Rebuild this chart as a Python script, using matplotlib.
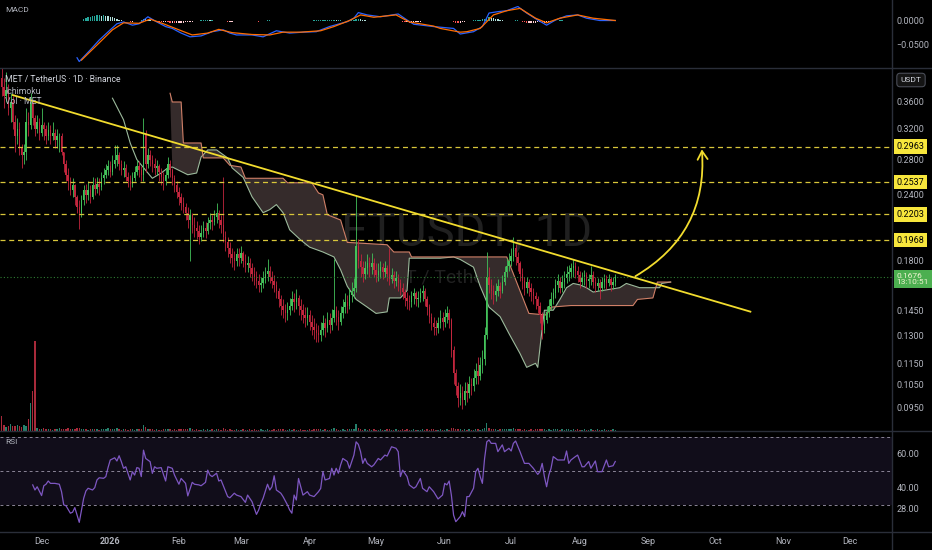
import matplotlib.pyplot as plt
import numpy as np
import pandas as pd
from matplotlib.lines import Line2D
from matplotlib.patches import FancyArrowPatch

# ---------------- data ----------------
start_date = '2025-11-13'   # first daily candle
first_open = 0.400

closes = [0.385, 0.370, 0.380, 0.350, 0.360, 0.330, 0.310, 0.320, 0.295, 0.285,
          0.290, 0.330, 0.325, 0.360, 0.335, 0.320, 0.330, 0.315, 0.325, 0.320,
          0.310, 0.318, 0.310, 0.315, 0.305, 0.310, 0.310, 0.290, 0.275, 0.262,
          0.255, 0.245, 0.250, 0.238, 0.228, 0.222, 0.235, 0.245, 0.240, 0.245,
          0.238, 0.250, 0.246, 0.252, 0.248, 0.258, 0.262, 0.268, 0.272, 0.265,
          0.275, 0.280, 0.285, 0.275, 0.268, 0.270, 0.260, 0.255, 0.252, 0.258,
          0.265, 0.272, 0.268, 0.262, 0.315, 0.275, 0.285, 0.280, 0.275, 0.270,
          0.272, 0.265, 0.260, 0.255, 0.262, 0.275, 0.268, 0.258, 0.250, 0.243,
          0.238, 0.232, 0.228, 0.222, 0.215, 0.220, 0.210, 0.208, 0.205, 0.200,
          0.203, 0.208, 0.205, 0.212, 0.215, 0.213, 0.218, 0.222, 0.215, 0.210,
          0.200, 0.195, 0.190, 0.185, 0.182, 0.180, 0.185, 0.182, 0.186, 0.180,
          0.177, 0.178, 0.174, 0.170, 0.167, 0.165, 0.162, 0.163, 0.167, 0.170,
          0.172, 0.168, 0.165, 0.162, 0.158, 0.152, 0.148, 0.145, 0.143, 0.145,
          0.148, 0.152, 0.150, 0.153, 0.148, 0.145, 0.142, 0.140, 0.142, 0.138,
          0.135, 0.133, 0.131, 0.130, 0.133, 0.137, 0.134, 0.139, 0.136, 0.140,
          0.145, 0.141, 0.138, 0.143, 0.147, 0.150, 0.148, 0.155, 0.158, 0.160,
          0.192, 0.180, 0.175, 0.170, 0.174, 0.178, 0.175, 0.178, 0.173, 0.169,
          0.172, 0.175, 0.171, 0.174, 0.170, 0.166, 0.169, 0.165, 0.167, 0.163,
          0.160, 0.157, 0.153, 0.151, 0.150, 0.154, 0.156, 0.152, 0.153, 0.156,
          0.158, 0.152, 0.147, 0.141, 0.137, 0.135, 0.134, 0.137, 0.140, 0.138,
          0.141, 0.143, 0.139, 0.122, 0.110, 0.104, 0.099, 0.101, 0.098, 0.102,
          0.101, 0.105, 0.104, 0.108, 0.111, 0.109, 0.114, 0.117, 0.130, 0.168,
          0.162, 0.158, 0.155, 0.158, 0.161, 0.158, 0.164, 0.171, 0.176, 0.180,
          0.184, 0.190, 0.183, 0.178, 0.170, 0.165, 0.160, 0.164, 0.160, 0.157,
          0.154, 0.152, 0.148, 0.142, 0.133, 0.139, 0.144, 0.148, 0.152, 0.156,
          0.162, 0.165, 0.160, 0.164, 0.167, 0.170, 0.171, 0.174, 0.176, 0.172,
          0.169, 0.164, 0.167, 0.169, 0.165, 0.166, 0.169, 0.164, 0.161, 0.163,
          0.160, 0.164, 0.166, 0.163, 0.166, 0.162, 0.164, 0.1676]

highs = [0.430, 0.400, 0.410, 0.390, 0.375, 0.370, 0.340, 0.335, 0.330, 0.300,
         0.300, 0.350, 0.345, 0.375, 0.360, 0.340, 0.340, 0.335, 0.350, 0.330,
         0.325, 0.330, 0.325, 0.330, 0.320, 0.320, 0.315, 0.315, 0.290, 0.280,
         0.270, 0.260, 0.258, 0.252, 0.240, 0.235, 0.240, 0.250, 0.252, 0.255,
         0.250, 0.260, 0.258, 0.260, 0.258, 0.265, 0.270, 0.275, 0.280, 0.278,
         0.285, 0.298, 0.298, 0.290, 0.280, 0.278, 0.275, 0.265, 0.262, 0.265,
         0.272, 0.280, 0.278, 0.272, 0.335, 0.318, 0.295, 0.292, 0.285, 0.282,
         0.280, 0.275, 0.270, 0.265, 0.270, 0.283, 0.280, 0.270, 0.262, 0.255,
         0.248, 0.242, 0.238, 0.232, 0.228, 0.226, 0.222, 0.218, 0.214, 0.210,
         0.210, 0.214, 0.213, 0.218, 0.222, 0.220, 0.225, 0.232, 0.225, 0.220,
         0.260, 0.205, 0.200, 0.195, 0.190, 0.188, 0.190, 0.190, 0.192, 0.188,
         0.185, 0.184, 0.182, 0.178, 0.175, 0.172, 0.170, 0.168, 0.172, 0.175,
         0.181, 0.176, 0.172, 0.169, 0.165, 0.160, 0.155, 0.152, 0.149, 0.150,
         0.153, 0.158, 0.156, 0.159, 0.155, 0.152, 0.149, 0.147, 0.147, 0.145,
         0.142, 0.140, 0.137, 0.136, 0.138, 0.142, 0.140, 0.144, 0.143, 0.146,
         0.181, 0.148, 0.145, 0.148, 0.152, 0.156, 0.155, 0.160, 0.164, 0.167,
         0.240, 0.198, 0.185, 0.180, 0.180, 0.185, 0.183, 0.186, 0.182, 0.178,
         0.178, 0.180, 0.178, 0.180, 0.177, 0.190, 0.174, 0.172, 0.172, 0.170,
         0.166, 0.163, 0.159, 0.157, 0.155, 0.158, 0.160, 0.158, 0.158, 0.160,
         0.162, 0.160, 0.154, 0.149, 0.143, 0.141, 0.139, 0.141, 0.145, 0.144,
         0.146, 0.148, 0.146, 0.140, 0.124, 0.112, 0.106, 0.105, 0.104, 0.106,
         0.106, 0.109, 0.108, 0.112, 0.115, 0.118, 0.118, 0.122, 0.135, 0.187,
         0.175, 0.166, 0.162, 0.163, 0.166, 0.164, 0.169, 0.176, 0.182, 0.186,
         0.190, 0.200, 0.194, 0.187, 0.180, 0.174, 0.168, 0.168, 0.166, 0.163,
         0.160, 0.157, 0.154, 0.150, 0.144, 0.143, 0.148, 0.152, 0.157, 0.160,
         0.166, 0.170, 0.168, 0.169, 0.172, 0.176, 0.177, 0.178, 0.181, 0.179,
         0.176, 0.172, 0.171, 0.173, 0.171, 0.170, 0.176, 0.172, 0.168, 0.167,
         0.166, 0.168, 0.170, 0.169, 0.170, 0.168, 0.168, 0.170]

lows = [0.370, 0.350, 0.360, 0.340, 0.330, 0.320, 0.290, 0.300, 0.285, 0.270,
        0.275, 0.280, 0.310, 0.320, 0.325, 0.310, 0.315, 0.305, 0.310, 0.305,
        0.300, 0.305, 0.300, 0.305, 0.295, 0.295, 0.290, 0.285, 0.265, 0.255,
        0.245, 0.240, 0.238, 0.230, 0.222, 0.207, 0.218, 0.230, 0.232, 0.235,
        0.232, 0.236, 0.240, 0.242, 0.240, 0.245, 0.252, 0.258, 0.262, 0.260,
        0.262, 0.270, 0.272, 0.268, 0.262, 0.260, 0.255, 0.248, 0.245, 0.248,
        0.255, 0.262, 0.260, 0.255, 0.255, 0.265, 0.270, 0.272, 0.265, 0.262,
        0.262, 0.255, 0.250, 0.245, 0.250, 0.258, 0.260, 0.250, 0.243, 0.237,
        0.230, 0.225, 0.222, 0.215, 0.208, 0.180, 0.203, 0.200, 0.198, 0.194,
        0.196, 0.200, 0.199, 0.202, 0.207, 0.206, 0.210, 0.212, 0.208, 0.203,
        0.195, 0.188, 0.183, 0.178, 0.175, 0.173, 0.176, 0.176, 0.178, 0.175,
        0.171, 0.171, 0.168, 0.165, 0.162, 0.160, 0.157, 0.157, 0.160, 0.163,
        0.165, 0.163, 0.160, 0.157, 0.153, 0.147, 0.142, 0.140, 0.138, 0.139,
        0.142, 0.145, 0.144, 0.146, 0.142, 0.139, 0.137, 0.135, 0.136, 0.133,
        0.130, 0.128, 0.126, 0.126, 0.127, 0.130, 0.129, 0.132, 0.131, 0.133,
        0.138, 0.136, 0.133, 0.136, 0.140, 0.143, 0.143, 0.146, 0.150, 0.153,
        0.157, 0.174, 0.168, 0.164, 0.166, 0.170, 0.168, 0.170, 0.168, 0.164,
        0.165, 0.167, 0.166, 0.168, 0.165, 0.162, 0.163, 0.160, 0.161, 0.158,
        0.155, 0.152, 0.148, 0.146, 0.145, 0.147, 0.149, 0.148, 0.147, 0.150,
        0.151, 0.148, 0.142, 0.137, 0.133, 0.130, 0.130, 0.131, 0.134, 0.133,
        0.135, 0.137, 0.134, 0.118, 0.105, 0.100, 0.095, 0.096, 0.094, 0.096,
        0.097, 0.099, 0.100, 0.102, 0.105, 0.105, 0.107, 0.110, 0.114, 0.128,
        0.156, 0.152, 0.149, 0.151, 0.154, 0.153, 0.156, 0.162, 0.168, 0.172,
        0.176, 0.180, 0.177, 0.172, 0.165, 0.159, 0.155, 0.156, 0.154, 0.151,
        0.149, 0.146, 0.143, 0.137, 0.128, 0.131, 0.137, 0.141, 0.145, 0.149,
        0.153, 0.157, 0.156, 0.157, 0.160, 0.163, 0.165, 0.167, 0.168, 0.167,
        0.164, 0.160, 0.161, 0.162, 0.160, 0.160, 0.162, 0.160, 0.157, 0.158,
        0.152, 0.158, 0.160, 0.159, 0.161, 0.158, 0.159, 0.161]

# volume in millions of MET
volumes = [30, 12, 8, 10, 14, 10, 9, 12, 10, 8, 11, 9, 24, 56, 80, 180, 6,
           4, 3, 5, 3, 4, 3, 2, 4, 3, 5, 4, 3, 3, 5, 4, 3, 4, 6, 5, 3, 4, 3, 2, 3, 4, 3, 3, 2, 3, 4, 3, 5, 3,
           4, 3, 5, 3, 2, 3, 3, 2, 4, 3, 2, 3, 4, 3, 12, 7, 4, 3, 3, 2, 3, 2, 2, 3, 3, 4, 3, 2, 3, 2,
           3, 3, 4, 3, 3, 5, 3, 2, 3, 2, 2, 3, 2, 3, 2, 3, 2, 3, 3, 2,
           5, 3, 2, 3, 2, 2, 3, 2, 2, 3, 2, 2, 3, 2, 3, 2, 2, 3, 2, 2, 3, 2, 2, 3, 2, 3, 4, 3, 2, 2,
           3, 2, 3, 2, 2, 3, 2, 2, 2, 3, 2, 3, 3, 4, 3, 2, 3, 2, 2, 3,
           6, 3, 2, 2, 3, 2, 3, 3, 3, 4, 14, 6, 3, 2, 3, 2, 3, 2, 3, 2, 2, 3, 2, 2, 3, 4, 2, 2, 3, 2,
           2, 3, 2, 3, 2, 2, 3, 2, 2, 2, 3, 2, 3, 2, 3, 3, 2, 2, 3, 2,
           2, 3, 2, 6, 5, 4, 3, 3, 2, 3, 2, 3, 2, 2, 3, 3, 2, 4, 6, 16, 6, 4, 3, 3, 2, 3, 3, 4, 3, 4,
           3, 5, 4, 3, 3, 2, 3, 2, 2, 3, 2, 3, 3, 4, 4, 3, 2, 3, 2, 3,
           3, 4, 2, 3, 2, 3, 3, 2, 3, 2, 3, 2, 2, 3, 2, 2, 3, 2, 2, 3, 2, 2, 3, 2, 2, 2, 3, 1]

# MACD (bar index, value)
macd_line = [(34, -0.079), (35, -0.087), (40, -0.062), (44, -0.041), (49, -0.019), (52, -0.006),
             (55, -0.002), (59, -0.009), (62, -0.006), (66, 0.009), (70, -0.002), (74, -0.012),
             (77, -0.016), (81, -0.026), (85, -0.034), (90, -0.032), (95, -0.023), (100, -0.019),
             (103, -0.026), (106, -0.030), (113, -0.030), (118, -0.034), (124, -0.021), (130, -0.026),
             (136, -0.024), (142, -0.023), (148, -0.012), (156, -0.0015), (159, 0.006), (161, 0.018),
             (165, 0.013), (171, 0.009), (179, 0.015), (183, 0.002), (186, -0.007), (195, -0.012),
             (204, -0.016), (207, -0.028), (213, -0.023), (217, -0.012), (220, 0.017), (224, 0.020),
             (228, 0.022), (233, 0.031), (237, 0.017), (242, 0.002), (246, -0.009), (250, 0.002),
             (255, 0.011), (260, 0.013), (264, 0.006), (270, 0.001), (277, 0.001)]
signal_line = [(36, -0.084), (44, -0.047), (50, -0.019), (55, -0.004), (62, -0.005), (67, 0.004),
               (73, -0.006), (80, -0.019), (86, -0.030), (93, -0.026), (98, -0.018), (104, -0.025),
               (113, -0.029), (121, -0.030), (127, -0.024), (135, -0.024), (144, -0.021), (150, -0.012),
               (157, 0.001), (162, 0.013), (168, 0.008), (178, 0.013), (184, -0.002), (195, -0.011),
               (198, -0.016), (207, -0.024), (210, -0.023), (216, -0.016), (222, 0.013), (228, 0.022),
               (234, 0.027), (241, 0.006), (246, -0.004), (252, 0.006), (260, 0.013), (267, 0.006),
               (277, 0.001)]
hist_start = 37
macd_hist = [4, 6, 8, 9, 10, 11, 12, 12, 11, 12, 11, 10, 9, 8, 6, 5, 3, 2,
             1, 0, -1, -2, -2, -1, 0, 1, 3, 5, 4,
             3, 2, 1, 0, -1, -2, -3, -3, -2, -3, -4, -4, -5, -5, -4,
             -4, -4, -3, -3, -2, -2, -1, 0, 1, 2, 2, 3, 3, 2, 2, 1, 1, 0, 0, -1,
             -1, -2, -2, -2, -1, -1, -1, 0, 0, 0, -1, -1, -1, -1, -1, -2, -1, 0, 1, 2, 2, 1, 1, 0, 0, -1, -1, -1, 0, 0,
             0, 1, 1, 0, 0, 0, 1, 1, 1, 1, 2, 2, 2, 2, 3, 3, 3, 3, 3, 3, 2, 2, 2, 1, 1, 1, 1, 2, 3, 5,
             5, 4, 3, 2, 1, 0, 0, 0, 1, 1, 1, 1, 1, 1, 0, 0, 1, 1, 0, -1, -2, -3, -3, -4, -4, -3, -3, -2, -2, -1,
             -1, -1, -1, -1, -1, 0, 0, 0, 0, 0, 0, 0, -1, -3, -4, -5, -4, -3, -2, -1, 0, 1, 2, 2, 3, 3, 4, 4, 6, 8,
             7, 6, 5, 4, 3, 2, 1, 1, 0, 0, 1, 2, 2, 0, -2, -3, -4, -4, -4, -4, -4, -3, -3, -4, -4, -3, -2, -1, 0, 1,
             1, 2, 2, 1, 1, 1, 1, 0, 0, 0, 0, -1, -1, -1, -1, -1, 0, 0, 0, -1, -1, 0, 0, 0, 0, 0, 0]  # x 0.001

# RSI (bar index, value)
rsi_line = [(14, 41.7), (15, 38.7), (16, 40.6), (18, 35.4), (19, 41.2), (20, 42.1), (21, 44.0), (22, 42.6),
            (24, 42.6), (26, 42.1), (27, 37.7), (28, 29.9), (29, 29.4), (31, 25.0), (32, 25.6), (33, 28.3),
            (35, 19.6), (37, 33.8), (38, 38.1), (39, 39.7), (41, 38.7), (42, 40.1), (43, 44.6), (44, 45.9),
            (46, 45.6), (47, 46.6), (48, 51.9), (49, 56.4), (51, 57.7), (52, 55.8), (53, 58.9), (54, 55.4),
            (55, 51.5), (56, 52.4), (58, 44.6), (59, 49.5), (60, 47.5), (61, 51.9), (62, 51.5), (63, 46.6),
            (64, 62.2), (65, 57.3), (67, 55.4), (68, 48.5), (69, 52.4), (70, 51.5), (72, 51.9), (74, 44.0),
            (75, 52.4), (77, 51.5), (78, 47.5), (80, 42.1), (81, 45.5), (83, 42.6), (84, 35.2), (86, 43.2),
            (87, 42.1), (89, 41.7), (90, 41.2), (92, 43.2), (93, 50.4), (94, 47.5), (95, 46.6), (97, 48.6),
            (98, 44.0), (99, 44.6), (102, 34.8), (103, 34.1), (105, 36.8), (106, 35.7), (108, 34.8), (110, 31.4),
            (111, 35.7), (113, 31.8), (115, 24.3), (116, 26.9), (117, 30.8), (118, 33.8), (120, 42.1), (121, 38.7),
            (122, 40.6), (123, 47.1), (124, 38.7), (126, 36.8), (127, 34.8), (129, 29.9), (130, 26.9), (131, 25.0),
            (132, 35.7), (133, 32.8), (134, 45.5), (136, 35.7), (138, 37.7), (139, 35.7), (141, 34.8), (143, 37.7),
            (144, 39.6), (145, 49.5), (146, 44.6), (148, 45.5), (149, 51.5), (150, 47.5), (151, 51.5), (152, 48.6),
            (153, 53.5), (154, 57.3), (156, 55.5), (157, 51.5), (159, 59.3), (160, 67.1), (161, 65.6), (162, 61.3),
            (163, 54.4), (164, 57.3), (165, 54.4), (167, 52.4), (168, 53.5), (170, 57.3), (171, 56.4), (173, 59.3),
            (174, 58.7), (176, 64.2), (178, 63.3), (179, 61.3), (180, 46.6), (181, 50.4), (183, 46.6), (184, 41.7),
            (186, 39.7), (187, 40.6), (189, 45.5), (190, 39.7), (192, 37.7), (193, 40.6), (195, 37.7), (197, 33.4),
            (199, 35.7), (200, 42.6), (201, 41.7), (202, 44.0), (203, 35.7), (204, 23.9), (205, 20.0), (207, 23.0),
            (208, 25.9), (209, 23.0), (210, 34.8), (211, 34.8), (213, 39.7), (214, 49.5), (215, 51.5), (216, 46.6),
            (217, 42.6), (218, 57.3), (219, 67.1), (220, 68.2), (221, 66.2), (223, 66.2), (224, 61.3), (226, 65.3),
            (227, 61.3), (229, 63.3), (230, 61.7), (231, 66.2), (232, 67.6), (234, 61.3), (236, 54.4), (238, 54.4),
            (240, 51.5), (242, 47.9), (243, 49.5), (244, 54.4), (245, 46.6), (246, 40.6), (247, 47.5), (248, 51.5),
            (249, 58.4), (251, 56.4), (253, 56.4), (254, 56.4), (255, 61.7), (256, 54.4), (257, 56.4), (259, 58.4),
            (260, 59.3), (262, 52.4), (263, 52.4), (265, 55.5), (266, 51.5), (268, 55.8), (269, 49.5), (271, 49.5),
            (273, 56.4), (274, 52.4), (276, 53.0), (277, 55.5)]

# Ichimoku leading spans (bar index, price), already shifted 26 bars forward
span_a = [(50, 0.366), (55, 0.333), (58, 0.301), (61, 0.280), (66, 0.264), (68, 0.258), (72, 0.264),
          (75, 0.270), (77, 0.271), (84, 0.262), (88, 0.264), (90, 0.283), (93, 0.292), (97, 0.292),
          (102, 0.282), (104, 0.270), (109, 0.259), (113, 0.238), (118, 0.222), (121, 0.225), (124, 0.230),
          (127, 0.222), (130, 0.206), (135, 0.197), (139, 0.191), (145, 0.187), (150, 0.183), (153, 0.173),
          (156, 0.161), (160, 0.152), (165, 0.147), (169, 0.143), (174, 0.144), (175, 0.153), (180, 0.153),
          (183, 0.158), (184, 0.182), (198, 0.182), (204, 0.183), (207, 0.181), (213, 0.175), (216, 0.161),
          (220, 0.147), (225, 0.141), (229, 0.131), (234, 0.120), (237, 0.113), (241, 0.115), (242, 0.113),
          (244, 0.134), (245, 0.145), (249, 0.145), (252, 0.152), (255, 0.160), (258, 0.163), (261, 0.162),
          (264, 0.160), (267, 0.157), (271, 0.158), (279, 0.160), (282, 0.163), (288, 0.160), (294, 0.160),
          (297, 0.160), (298, 0.163), (302, 0.164)]
span_b = [(76, 0.374), (77, 0.360), (81, 0.360), (82, 0.301), (90, 0.301), (91, 0.282), (100, 0.282),
          (103, 0.273), (108, 0.271), (110, 0.258), (127, 0.258), (129, 0.253), (140, 0.253), (143, 0.242),
          (145, 0.240), (147, 0.220), (153, 0.215), (156, 0.195), (174, 0.193), (177, 0.187), (184, 0.187),
          (185, 0.183), (228, 0.183), (238, 0.143), (246, 0.142), (248, 0.147), (257, 0.148), (285, 0.148),
          (287, 0.152), (294, 0.153), (296, 0.164), (302, 0.164)]

levels = [0.2963, 0.2537, 0.2203, 0.1968]
trend = [(5, 0.371), (338, 0.1441)]
target_arrow = [(285, 0.1672), (316, 0.2963)]
countdown = '13:10:51'

price_ticks = [0.36, 0.32, 0.28, 0.24, 0.18, 0.145, 0.13, 0.115, 0.105, 0.095]
macd_ticks = [0.0, -0.05]
rsi_ticks = [60, 40, 28]
rsi_bands = [70, 50, 30]
month_labels = ['Dec', '2026', 'Feb', 'Mar', 'Apr', 'May', 'Jun', 'Jul', 'Aug', 'Sep', 'Oct', 'Nov', 'Dec']

# ---------------- style ----------------
plt.rcParams['font.family'] = ['Roboto', 'DejaVu Sans']
BG = '#000000'
SEP = '#2a2e39'
TXT = '#b2b5be'
UP, DOWN = '#43c25a', '#c2263d'
VUP, VDOWN = '#26806c', '#a82a3a'
YEL = '#f2dc2e'
LVL = '#d8c63a'

W, H = 932, 550
PX_RIGHT = 891.7
fig = plt.figure(figsize=(W / 100, H / 100), dpi=100, facecolor=BG)


def box(x0, y0, x1, y1):
    return [x0 / W, 1 - y1 / H, (x1 - x0) / W, (y1 - y0) / H]


ax_macd = fig.add_axes(box(0, 0, PX_RIGHT, 68))
ax_vol = fig.add_axes(box(0, 68, PX_RIGHT, 430.5))
ax = fig.add_axes(box(0, 68, PX_RIGHT, 430.5))
ax_rsi = fig.add_axes(box(0, 431, PX_RIGHT, 531))

xlim = (-0.78, 401.8)
for a in (ax_macd, ax_vol, ax, ax_rsi):
    a.set_xlim(*xlim)
    a.set_facecolor(BG)
    for s in a.spines.values():
        s.set_visible(False)
    a.tick_params(axis='x', length=0, labelbottom=False)
    a.yaxis.tick_right()
    a.tick_params(axis='y', length=0, pad=3.6, labelsize=6.5, colors=TXT)
ax.set_facecolor('none')

# ---------------- candles + volume ----------------
closes = np.array(closes)
opens = np.r_[first_open, closes[:-1]]
highs = np.maximum(np.array(highs), np.maximum(opens, closes))
lows = np.minimum(np.array(lows), np.minimum(opens, closes))
x = np.arange(len(closes))
up = closes >= opens

ax.vlines(x, lows, highs, colors=np.where(up, UP, DOWN), lw=0.6, zorder=3)
ax.bar(x, np.maximum(np.abs(closes - opens), 0.0005), bottom=np.minimum(opens, closes),
       width=0.62, color=np.where(up, UP, DOWN), linewidth=0, zorder=3)

ax_vol.bar(x, volumes, width=0.62, color=np.where(up, VUP, VDOWN), linewidth=0)
ax_vol.set_ylim(0, 725)
ax_vol.set_yticks([])

# ---------------- ichimoku cloud ----------------
a_idx, a_val = np.array(span_a).T
b_idx, b_val = np.array(span_b).T
m = a_idx >= b_idx[0]
ax.fill(np.r_[a_idx[m], b_idx[::-1]], np.r_[a_val[m], b_val[::-1]], color='#352b2b', lw=0, zorder=1)
ax.plot(a_idx, a_val, color='#9cba9c', lw=0.8, zorder=2)
ax.plot(b_idx, b_val, color='#d08068', lw=0.8, zorder=2)

ax.set_yscale('log')
ax.set_ylim(0.08576, 0.4176)
ax.set_yticks(price_ticks)
ax.set_yticklabels([f'{t:.4f}' for t in price_ticks])
ax.minorticks_off()

# watermark
ax.text(0.5, 0.546, 'METUSDT, 1D', transform=ax.transAxes, ha='center', va='center',
        fontsize=34, color='#202020', family=['Liberation Sans Narrow', 'Roboto', 'DejaVu Sans'], zorder=0)
ax.text(0.5, 0.423, 'MET / TetherUS', transform=ax.transAxes, ha='center', va='center',
        fontsize=14, color='#202020', zorder=0)

# levels
for lv in levels:
    ax.axhline(lv, color=LVL, lw=0.9, ls=(0, (4, 3)), zorder=4)
    ax.annotate(f'{lv:.4f}', xy=(1, lv), xycoords=('axes fraction', 'data'), xytext=(3.6, 0),
                textcoords='offset points', ha='left', va='center', fontsize=6.5, color='black',
                bbox=dict(boxstyle='square,pad=0.3', fc='#f7e63c', ec='none'), annotation_clip=False, zorder=6)

last = closes[-1]
ax.axhline(last, color='#2e7d32', lw=0.8, ls=(0, (1, 2)), zorder=4)
ax.annotate(f'{last:.4f}\n{countdown}', xy=(1, last), xycoords=('axes fraction', 'data'), xytext=(3.6, 3),
            textcoords='offset points', ha='left', va='top', fontsize=6, color='#eef3d0', linespacing=1.05,
            bbox=dict(boxstyle='square,pad=0.3', fc='#4caf50', ec='none'), annotation_clip=False, zorder=6)

# trendline and projected move
(tx0, ty0), (tx1, ty1) = trend
ax.plot([tx0, tx1], [ty0, ty1], color=YEL, lw=1.3, zorder=5)
arrow = FancyArrowPatch(target_arrow[0], target_arrow[1], connectionstyle='arc3,rad=0.32',
                        arrowstyle='->,head_length=0.5,head_width=0.3', mutation_scale=12,
                        color=YEL, lw=1.3, zorder=5)
ax.add_patch(arrow)

# ---------------- MACD ----------------
mi, mv = np.array(macd_line).T
si, sv = np.array(signal_line).T
h = np.array(macd_hist) * 0.001
hx = np.arange(hist_start, hist_start + len(h))
prev = np.r_[h[0], h[:-1]]
hcol = np.where(h >= 0, np.where(h >= prev, '#26a69a', '#b2dfdb'),
                np.where(h < prev, '#ff5252', '#ffcdd2'))
ax_macd.bar(hx, h, width=0.6, color=hcol, linewidth=0)
ax_macd.plot(mi, mv, color='#2962ff', lw=0.9)
ax_macd.plot(si, sv, color='#ff6d00', lw=0.9)
ax_macd.set_ylim(-0.1009, 0.045)
ax_macd.set_yticks(macd_ticks)
ax_macd.set_yticklabels(['0.0000', '\u22120.0500'])

# ---------------- RSI ----------------
ri, rv = np.array(rsi_line).T
ax_rsi.axhspan(rsi_bands[-1], rsi_bands[0], color='#110d1a', lw=0)
for b in rsi_bands:
    ax_rsi.axhline(b, color='#8a8496', lw=0.7, ls=(0, (3, 3)))
ax_rsi.plot(ri, rv, color='#7e57c2', lw=0.9)
ax_rsi.set_ylim(14.5, 73.5)
ax_rsi.set_yticks(rsi_ticks)
ax_rsi.set_yticklabels([f'{t:.2f}' for t in rsi_ticks])

months = pd.date_range('2025-12-01', periods=len(month_labels), freq='MS')
mpos = (months - pd.Timestamp(start_date)).days
ax_rsi.set_xticks(mpos)
ax_rsi.set_xticklabels(month_labels)
ax_rsi.tick_params(axis='x', labelbottom=True, pad=4.3, labelsize=6.5, colors=TXT)
for lab in ax_rsi.get_xticklabels():
    if lab.get_text() == '2026':
        lab.set_fontweight('bold')

# ---------------- panel titles and frame ----------------
fig.text(5 / W, 1 - 10 / H, 'MACD', fontsize=6, color=TXT, va='center')
fig.text(5 / W, 1 - 80 / H, 'MET / TetherUS \u00b7 1D \u00b7 Binance', fontsize=6.2, color='#d1d4dc', va='center')
fig.text(5 / W, 1 - 91 / H, 'Ichimoku', fontsize=6.2, color=TXT, va='center')
fig.text(5 / W, 1 - 102 / H, 'Vol \u00b7 MET', fontsize=6.2, color=TXT, va='center')
fig.text(5 / W, 1 - 442 / H, 'RSI', fontsize=6, color=TXT, va='center')
fig.text(911 / W, 1 - 80 / H, 'USDT', fontsize=6, color='#d1d4dc', ha='center', va='center',
         bbox=dict(boxstyle='round,pad=0.45,rounding_size=0.4', fc='#141414', ec='#4a4d57', lw=0.8))

for yy in (68, 430.7, 531.5):
    fig.add_artist(Line2D([0, 1], [1 - yy / H] * 2, color=SEP, lw=1))
fig.add_artist(Line2D([PX_RIGHT / W] * 2, [0, 1], color=SEP, lw=1))

fig.savefig('out.png', dpi=100, facecolor=BG)
